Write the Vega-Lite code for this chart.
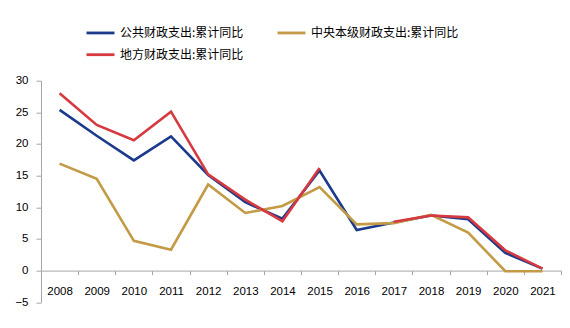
{
  "$schema": "https://vega.github.io/schema/vega-lite/v6.json",
  "width": 520,
  "height": 221.5,
  "autosize": {"type": "none"},
  "padding": {"left": 41, "top": 80.7, "right": 9, "bottom": 25.8},
  "background": "white",
  "data": {
    "values": [
      {"year": "2008", "series": "公共财政支出:累计同比", "value": 25.4},
      {"year": "2009", "series": "公共财政支出:累计同比", "value": 21.3},
      {"year": "2010", "series": "公共财政支出:累计同比", "value": 17.4},
      {"year": "2011", "series": "公共财政支出:累计同比", "value": 21.2},
      {"year": "2012", "series": "公共财政支出:累计同比", "value": 15.1},
      {"year": "2013", "series": "公共财政支出:累计同比", "value": 10.8},
      {"year": "2014", "series": "公共财政支出:累计同比", "value": 8.2},
      {"year": "2015", "series": "公共财政支出:累计同比", "value": 15.8},
      {"year": "2016", "series": "公共财政支出:累计同比", "value": 6.4},
      {"year": "2017", "series": "公共财政支出:累计同比", "value": 7.6},
      {"year": "2018", "series": "公共财政支出:累计同比", "value": 8.7},
      {"year": "2019", "series": "公共财政支出:累计同比", "value": 8.1},
      {"year": "2020", "series": "公共财政支出:累计同比", "value": 2.8},
      {"year": "2021", "series": "公共财政支出:累计同比", "value": 0.3},
      {"year": "2008", "series": "中央本级财政支出:累计同比", "value": 16.9},
      {"year": "2009", "series": "中央本级财政支出:累计同比", "value": 14.5},
      {"year": "2010", "series": "中央本级财政支出:累计同比", "value": 4.7},
      {"year": "2011", "series": "中央本级财政支出:累计同比", "value": 3.3},
      {"year": "2012", "series": "中央本级财政支出:累计同比", "value": 13.6},
      {"year": "2013", "series": "中央本级财政支出:累计同比", "value": 9.1},
      {"year": "2014", "series": "中央本级财政支出:累计同比", "value": 10.2},
      {"year": "2015", "series": "中央本级财政支出:累计同比", "value": 13.2},
      {"year": "2016", "series": "中央本级财政支出:累计同比", "value": 7.3},
      {"year": "2017", "series": "中央本级财政支出:累计同比", "value": 7.5},
      {"year": "2018", "series": "中央本级财政支出:累计同比", "value": 8.8},
      {"year": "2019", "series": "中央本级财政支出:累计同比", "value": 6.0},
      {"year": "2020", "series": "中央本级财政支出:累计同比", "value": -0.1},
      {"year": "2021", "series": "中央本级财政支出:累计同比", "value": -0.1},
      {"year": "2008", "series": "地方财政支出:累计同比", "value": 28.0},
      {"year": "2009", "series": "地方财政支出:累计同比", "value": 23.0},
      {"year": "2010", "series": "地方财政支出:累计同比", "value": 20.6},
      {"year": "2011", "series": "地方财政支出:累计同比", "value": 25.1},
      {"year": "2012", "series": "地方财政支出:累计同比", "value": 15.2},
      {"year": "2013", "series": "地方财政支出:累计同比", "value": 11.2},
      {"year": "2014", "series": "地方财政支出:累计同比", "value": 7.8},
      {"year": "2015", "series": "地方财政支出:累计同比", "value": 16.2},
      {"year": "2016", "series": "地方财政支出:累计同比", "value": null},
      {"year": "2017", "series": "地方财政支出:累计同比", "value": 7.7},
      {"year": "2018", "series": "地方财政支出:累计同比", "value": 8.7},
      {"year": "2019", "series": "地方财政支出:累计同比", "value": 8.4},
      {"year": "2020", "series": "地方财政支出:累计同比", "value": 3.2},
      {"year": "2021", "series": "地方财政支出:累计同比", "value": 0.3}
    ]
  },
  "mark": {"type": "line", "strokeWidth": 2.6, "interpolate": "linear"},
  "encoding": {
    "x": {
      "field": "year",
      "type": "ordinal",
      "scale": {"type": "band", "paddingInner": 0, "paddingOuter": 0},
      "axis": {
        "title": null,
        "offset": -31.6,
        "tickBand": "extent",
        "labelAngle": 0,
        "domainColor": "#a6a6a6",
        "tickColor": "#a6a6a6",
        "tickSize": 4,
        "labelPadding": 11,
        "labelFont": "Liberation Sans",
        "labelFontSize": 11.5,
        "labelColor": "#000000",
        "grid": false
      }
    },
    "y": {
      "field": "value",
      "type": "quantitative",
      "scale": {"domain": [-5, 30], "nice": false, "zero": false},
      "axis": {
        "title": null,
        "values": [-5, 0, 5, 10, 15, 20, 25, 30],
        "grid": false,
        "domainColor": "#a6a6a6",
        "tickColor": "#a6a6a6",
        "tickSize": 5,
        "labelPadding": 8,
        "labelFont": "Liberation Sans",
        "labelFontSize": 11.5,
        "labelColor": "#000000"
      }
    },
    "color": {
      "field": "series",
      "type": "nominal",
      "sort": ["公共财政支出:累计同比", "中央本级财政支出:累计同比", "地方财政支出:累计同比"],
      "scale": {
        "domain": ["公共财政支出:累计同比", "中央本级财政支出:累计同比", "地方财政支出:累计同比"],
        "range": ["#1b3a8c", "#c39a45", "#d6393f"]
      },
      "legend": {
        "title": null,
        "orient": "none",
        "legendX": 44,
        "legendY": -63.5,
        "direction": "horizontal",
        "columns": 2,
        "columnPadding": 27,
        "rowPadding": -1.3,
        "padding": 0,
        "symbolType": "stroke",
        "symbolSize": 784,
        "symbolStrokeWidth": 2.8,
        "labelOffset": 4,
        "labelFont": "Noto Sans CJK SC",
        "labelFontSize": 12,
        "labelColor": "#000000",
        "labelLimit": 300
      }
    }
  },
  "config": {"view": {"stroke": null}}
}
